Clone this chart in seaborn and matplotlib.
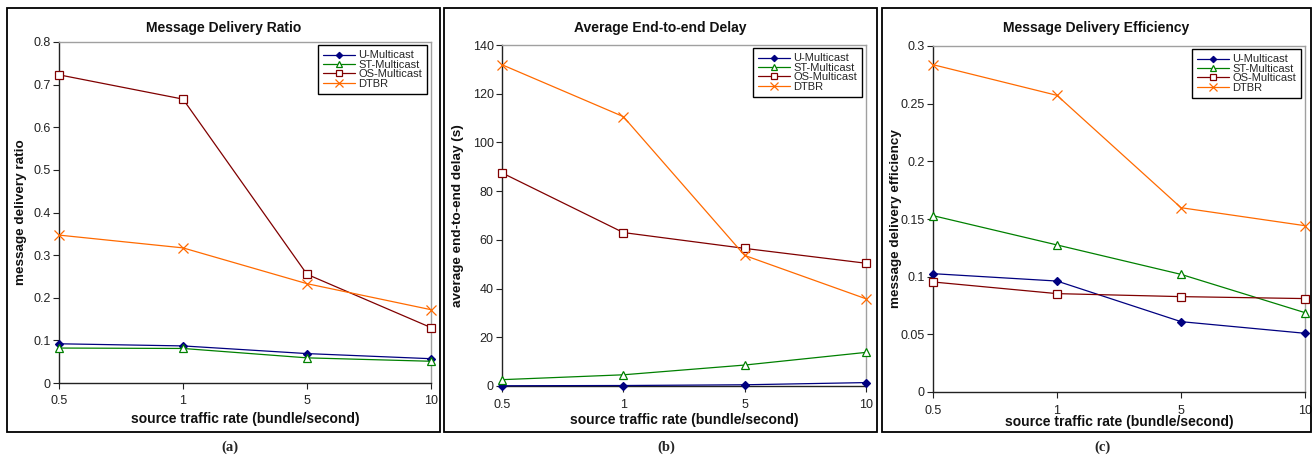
import numpy as np
import pandas as pd
import seaborn as sns
import matplotlib
matplotlib.use("Agg")
import matplotlib.pyplot as plt
from matplotlib.patches import Rectangle
from matplotlib.ticker import FuncFormatter, FixedLocator

# Source traffic rates (categorical, evenly spaced)
rates = ["0.5", "1", "5", "10"]
series_names = ["U-Multicast", "ST-Multicast", "OS-Multicast", "DTBR"]

# (a) message delivery ratio
ratio_u = [0.092, 0.087, 0.069, 0.057]
ratio_st = [0.082, 0.081, 0.059, 0.051]
ratio_os = [0.723, 0.666, 0.255, 0.130]
ratio_dtbr = [0.347, 0.317, 0.233, 0.172]

# (b) average end-to-end delay (s)
delay_u = [0.1, 0.2, 0.5, 1.4]
delay_st = [2.6, 4.6, 8.6, 13.8]
delay_os = [87.5, 63.0, 56.5, 50.4]
delay_dtbr = [131.9, 110.6, 53.6, 35.8]

# (c) message delivery efficiency
eff_u = [0.1026, 0.0962, 0.0610, 0.0509]
eff_st = [0.1529, 0.1275, 0.1020, 0.0688]
eff_os = [0.0954, 0.0853, 0.0827, 0.0810]
eff_dtbr = [0.2838, 0.2572, 0.1598, 0.1442]

panels = [
    dict(title="Message Delivery Ratio", ylabel="message delivery ratio",
         data=[ratio_u, ratio_st, ratio_os, ratio_dtbr],
         yticks=[0, 0.1, 0.2, 0.3, 0.4, 0.5, 0.6, 0.7, 0.8], caption="(a)"),
    dict(title="Average End-to-end Delay", ylabel="average end-to-end delay (s)",
         data=[delay_u, delay_st, delay_os, delay_dtbr],
         yticks=[0, 20, 40, 60, 80, 100, 120, 140], caption="(b)"),
    dict(title="Message Delivery Efficiency", ylabel="message delivery efficiency",
         data=[eff_u, eff_st, eff_os, eff_dtbr],
         yticks=[0, 0.05, 0.1, 0.15, 0.2, 0.25, 0.3], caption="(c)"),
]

styles = {
    "U-Multicast": dict(color="#000080", marker="D", mfc="#000080", ms=4),
    "ST-Multicast": dict(color="#008000", marker="^", mfc="white", ms=5.5),
    "OS-Multicast": dict(color="#800000", marker="s", mfc="white", ms=5.5),
    "DTBR": dict(color="#FF6A00", marker="x", mfc="none", ms=6.5),
}

sns.set_theme(style="white")
plt.rcParams["font.family"] = ["Liberation Sans", "DejaVu Sans"]

W, H = 1312, 457
fig = plt.figure(figsize=(W / 100, H / 100), dpi=100)


def fx(px):
    return px / W


def fy(py):
    return 1 - py / H


# pixel layout: outer frame, plot area, x-label row
layout = [
    dict(frame=(7, 8, 440, 432), axes=(59, 42, 431, 383), xl=419),
    dict(frame=(444, 8, 877, 432), axes=(502, 45, 866, 386), xl=420),
    dict(frame=(882, 8, 1311, 432), axes=(933, 46, 1305, 392), xl=422),
]

xpos = np.arange(len(rates))

for panel, lay in zip(panels, layout):
    l, t, r, b = lay["axes"]
    ax = fig.add_axes([fx(l), fy(b), fx(r - l), (b - t) / H])
    ax.set_facecolor("white")

    for name, vals in zip(series_names, panel["data"]):
        st = styles[name]
        df = pd.DataFrame({"rate": xpos, "value": vals})
        sns.lineplot(data=df, x="rate", y="value", ax=ax, color=st["color"],
                     marker=st["marker"], markersize=st["ms"],
                     markerfacecolor=st["mfc"], markeredgecolor=st["color"],
                     markeredgewidth=0.9, linewidth=0.9, label=name,
                     clip_on=False, zorder=3)

    yt = panel["yticks"]
    ax.set_xlim(0, len(rates) - 1)
    ax.set_ylim(yt[0], yt[-1])
    ax.xaxis.set_major_locator(FixedLocator(xpos))
    ax.set_xticklabels(rates)
    ax.yaxis.set_major_locator(FixedLocator(yt))
    ax.yaxis.set_major_formatter(FuncFormatter(lambda v, p: f"{v:g}"))
    ax.set_xlabel("")
    ax.set_ylabel("")
    ax.tick_params(axis="both", which="major", direction="out", length=4,
                   width=0.8, color="#222222", labelsize=9, pad=2,
                   left=True, bottom=True, labelcolor="#222222")
    ax.tick_params(axis="x", pad=5)

    for side in ("left", "bottom"):
        ax.spines[side].set_color("#222222")
        ax.spines[side].set_linewidth(1.0)
    for side in ("top", "right"):
        ax.spines[side].set_color("#A0A0A0")
        ax.spines[side].set_linewidth(1.0)
        ax.spines[side].set_visible(True)

    leg = ax.legend(loc="upper right", bbox_to_anchor=(0.99, 0.99),
                    fontsize=8, frameon=True, fancybox=False, framealpha=1,
                    edgecolor="black", labelspacing=-0.05, handlelength=2.9,
                    handletextpad=0.3, borderpad=0.45, borderaxespad=0.0,
                    markerscale=0.8)
    leg.get_frame().set_linewidth(1.0)

    # outer frame of the panel
    fl, ft, fr, fb = lay["frame"]
    fig.add_artist(Rectangle((fx(fl), fy(fb)), fx(fr - fl), (fb - ft) / H,
                             transform=fig.transFigure, fill=False,
                             edgecolor="black", linewidth=1.3))

    # titles and axis labels
    fig.text(fx((fl + fr) / 2), fy(28), panel["title"], ha="center",
             va="center", fontsize=10, fontweight="bold", color="#111111")
    fig.text(fx((l + r) / 2), fy(lay["xl"]), "source traffic rate (bundle/second)",
             ha="center", va="center", fontsize=10, fontweight="bold",
             color="#111111")
    fig.text(fx(fl + 14), fy((t + b) / 2), panel["ylabel"], ha="center",
             va="center", rotation=90, fontsize=9.7, fontweight="bold",
             color="#111111")
    fig.text(fx((fl + fr) / 2 + 6), fy(447), panel["caption"], ha="center",
             va="center", fontsize=10.5, fontweight="bold",
             family=["Liberation Serif", "DejaVu Serif"])

fig.savefig("out.png", dpi=100, facecolor="white")
